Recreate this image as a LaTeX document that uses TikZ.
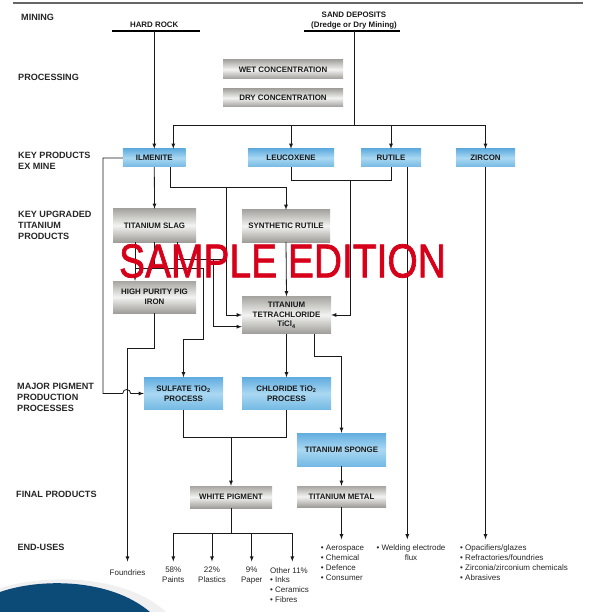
\documentclass[tikz,border=0pt]{standalone}
\usepackage{fontspec}
\setmainfont{Liberation Sans}
\newfontfamily\wmfont[FakeBold=1.6]{Liberation Sans}
\usetikzlibrary{calc,arrows}
\definecolor{blueA}{HTML}{62ADE0}
\definecolor{blueB}{HTML}{AAD8F2}
\definecolor{blueC}{HTML}{74B9E4}
\definecolor{greyA}{HTML}{A6A5A1}
\definecolor{greyB}{HTML}{F3F3F1}
\definecolor{greyC}{HTML}{9E9D99}
\definecolor{wmred}{HTML}{D7001A}
\definecolor{navy}{HTML}{0C4A77}
\tikzset{
  lab/.style={anchor=west,inner sep=0pt,align=left,font=\fontsize{9.1}{11}\selectfont\bfseries,text=black!85},
  bx/.style={inner sep=0pt,align=center,font=\fontsize{7.9}{9.8}\selectfont\bfseries,text=black!90},
  bluebox/.style={bx,top color=blueA,bottom color=blueC,middle color=blueB},
  greybox/.style={bx,top color=greyA,bottom color=greyC,middle color=greyB},
  enduse/.style={inner sep=0pt,font=\fontsize{8}{9.9}\selectfont,text=black!85},
  con/.style={draw=black!90,line width=0.8pt},
  arr/.style={con,-latex}
}
\begin{document}
\begin{tikzpicture}[x=1pt,y=-1pt]
\useasboundingbox(0,0)rectangle(589,612);
\begin{scope}
\clip(0,0)rectangle(589,612);
\fill[gray!12](0,588)..controls(45,574)and(125,574)..(166,612)--(0,612)--cycle;
\fill[navy](0,592)..controls(40,578)and(110,578)..(150,612)--(0,612)--cycle;
\end{scope}
\draw[black!60,line width=1.2pt](13,3)--(583,3);

\node[lab](lmin)at(21,17.3){MINING};
\node[lab](lproc)at(18,77.7){PROCESSING};
\node[lab](lkey)at(18,160.5){KEY PRODUCTS\\EX MINE};
\node[lab](lupg)at(18,225){KEY UPGRADED\\TITANIUM\\PRODUCTS};
\node[lab](lmaj)at(17,397.5){MAJOR PIGMENT\\PRODUCTION\\PROCESSES};
\node[lab](lfin)at(16,494.7){FINAL PRODUCTS};
\node[lab](lend)at(17.3,547.7){END-USES};

\node[bx](hard)at(154.2,25){HARD ROCK};
\node[bx](sand)at(354,20.5){SAND DEPOSITS\\(Dredge or Dry Mining)};
\draw[line width=1.1pt](112,31)--(200,31);
\draw[line width=1.1pt](304,31)--(400,31);
\coordinate(hrbar)at(154.3,31);
\coordinate(sdbar)at(354,31);
\coordinate(sj)at(354,125);

\node[greybox,minimum width=120pt,minimum height=19pt](wet)at(283,69.5){WET CONCENTRATION};
\node[greybox,minimum width=120pt,minimum height=18pt](dry)at(283,98){DRY CONCENTRATION};

\node[bluebox,minimum width=62.7pt,minimum height=18pt](ilm)at(154.3,158){ILMENITE};
\node[bluebox,minimum width=86pt,minimum height=18pt](leu)at(291,158){LEUCOXENE};
\node[bluebox,minimum width=60pt,minimum height=18pt](rut)at(391,158){RUTILE};
\node[bluebox,minimum width=59pt,minimum height=18pt](zir)at(485.5,158){ZIRCON};

\node[greybox,minimum width=83pt,minimum height=33pt](slag)at(154.5,225.5){TITANIUM SLAG};
\node[greybox,minimum width=88pt,minimum height=32pt](synr)at(286,226){SYNTHETIC RUTILE};
\node[greybox,minimum width=83pt,minimum height=32pt](pig)at(154.5,297){HIGH PURITY PIG\\IRON};
\node[greybox,minimum width=89pt,minimum height=37pt](ticl)at(286.5,315){TITANIUM\\TETRACHLORIDE\\TiCl\textsubscript{4}};

\node[bluebox,minimum width=79pt,minimum height=32pt](sul)at(183.5,393.5){SULFATE TiO\textsubscript{2}\\PROCESS};
\node[bluebox,minimum width=89pt,minimum height=32pt](chl)at(286.5,393.5){CHLORIDE TiO\textsubscript{2}\\PROCESS};
\node[bluebox,minimum width=89pt,minimum height=33pt](spo)at(341.5,449.5){TITANIUM SPONGE};
\node[greybox,minimum width=89pt,minimum height=21pt](met)at(341.5,496.5){TITANIUM METAL};
\node[greybox,minimum width=82pt,minimum height=22pt](wpg)at(231,497){WHITE PIGMENT};

\node[enduse](fnd)at(127.5,572.3){Foundries};
\node[enduse,anchor=north,align=center](pnt)at(173.3,567){58\%\\Paints};
\node[enduse,anchor=north,align=center](pla)at(212,567){22\%\\Plastics};
\node[enduse,anchor=north,align=center](pap)at(251.7,567){9\%\\Paper};
\node[enduse,anchor=north west,align=left](oth)at(270,567){Other 11\%\\\textbullet\ Inks\\\textbullet\ Ceramics\\\textbullet\ Fibres};
\node[enduse,anchor=north west,align=left](metu)at(320.7,544.8){\textbullet\ Aerospace\\\textbullet\ Chemical\\\textbullet\ Defence\\\textbullet\ Consumer};
\node[enduse,anchor=north,align=center](weld)at(411,544.8){\textbullet\ Welding electrode\\flux};
\node[enduse,anchor=north west,align=left](ziru)at(460,544.8){\textbullet\ Opacifiers/glazes\\\textbullet\ Refractories/foundries\\\textbullet\ Zirconia/zirconium chemicals\\\textbullet\ Abrasives};
\coordinate(eu)at(0,539.3);
\coordinate(eu2)at(0,561.5);

\draw[arr](hrbar)--(hrbar|-ilm.north);
\draw[con](sdbar)--(sj);
\draw[arr](sj)-|([xshift=19pt]ilm.north);
\foreach \n in {leu,rut,zir}\draw[arr](sj)-|(\n.north);

\draw[arr](ilm.south)--(slag.north);
\coordinate(ia)at(170.3,187);
\coordinate(ib)at(226.5,187);
\draw[arr]([xshift=16pt]ilm.south)--(ia)-|(synr.north);
\draw[arr](ib)|-(ticl.west);
\draw[arr](ilm.west)-|(103,393.5)--(122.7,393.5)..controls(122.7,388.2)and(130.7,388.2)..(130.7,393.5)--(sul.west);

\coordinate(lr)at(350,180);
\draw[con](leu.south)|-(lr);
\draw[con](rut.south)|-(lr);
\draw[arr](lr)|-(ticl.east);
\coordinate(rr)at([xshift=16.3pt]rut.south);
\draw[arr](rr)--(rr|-eu);
\draw[arr](zir.south)--(zir.south|-eu);

\coordinate(sl1)at([xshift=-19.5pt]slag.south);
\coordinate(sl3)at([xshift=22.5pt]slag.south);
\coordinate(sa)at(135,268);
\coordinate(sb)at(203,268);
\coordinate(sc)at(203,339);
\coordinate(sd)at(226.5,259);
\coordinate(se)at(213.3,259);
\coordinate(tw2)at([yshift=-11.7pt]ticl.west);
\draw[arr](sl1)--(sl1|-pig.north);
\draw[con](slag.south)--(slag.south|-sa);
\draw[arr](sa)--(sb)--(sc)-|(sul.north);
\draw[con](sl3)|-(sd);
\draw[arr](se)|-(tw2);
\draw[arr](synr.south)--(ticl.north);

\draw[arr](pig.south)--++(0,35)-|(fnd.north|-eu2);
\draw[arr](ticl.south)--(chl.north);
\coordinate(tr)at([xshift=27.8pt]ticl.south);
\draw[arr](tr)--++(0,23)-|(spo.north);
\draw[arr](spo.south)--(met.north);
\draw[arr](met.south)--(met.south|-eu);

\coordinate(pj)at(231,437.7);
\coordinate(wj)at(231,533.3);
\coordinate(oa)at(292.3,561.5);
\draw[con](sul.south)|-(pj)-|(chl.south);
\draw[arr](pj)--(wpg.north);
\draw[con](wpg.south)--(wj);
\foreach \n in {pnt,pla,pap}\draw[arr](wj)-|(\n.north|-eu2);
\draw[arr](wj)-|(oa);

\node[text=wmred,font=\wmfont\fontsize{47.5}{50}\selectfont,xscale=0.82,inner sep=0pt](wm)at(282.5,261){SAMPLE EDITION};
\end{tikzpicture}
\end{document}
